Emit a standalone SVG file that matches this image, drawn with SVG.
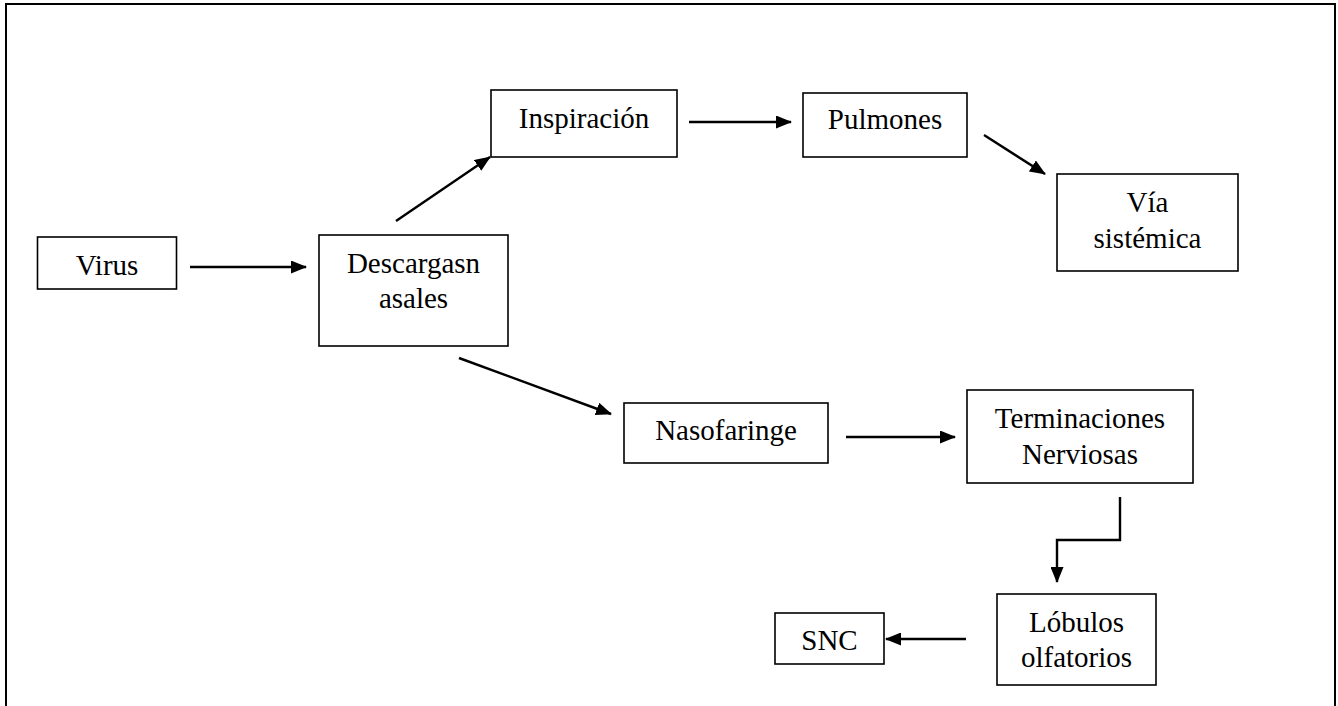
<svg xmlns="http://www.w3.org/2000/svg" width="1338" height="706" viewBox="0 0 1338 706">
<defs>
<style>
.box{fill:#fff;stroke:#000;stroke-width:1.6}
.c{fill:none;stroke:#000;stroke-width:2.4}
</style>
<marker id="ah" viewBox="0 0 16 13" refX="15" refY="6.5" markerWidth="16" markerHeight="13" markerUnits="userSpaceOnUse" orient="auto">
<path d="M0,0 L16,6.5 L0,13 Z" fill="#000"/>
</marker>
</defs>
<rect x="0" y="0" width="1338" height="706" fill="#fff"/>
<rect x="6" y="4" width="1329" height="720" fill="none" stroke="#000" stroke-width="2"/>
<g id="connectors">
<line class="c" x1="190" y1="267" x2="306" y2="267" marker-end="url(#ah)"/>
<line class="c" x1="396" y1="221" x2="490" y2="157" marker-end="url(#ah)"/>
<line class="c" x1="689" y1="122" x2="791" y2="122" marker-end="url(#ah)"/>
<line class="c" x1="984" y1="135" x2="1045" y2="174" marker-end="url(#ah)"/>
<line class="c" x1="459" y1="358" x2="611" y2="414" marker-end="url(#ah)"/>
<line class="c" x1="846" y1="437" x2="955" y2="437" marker-end="url(#ah)"/>
<polyline class="c" points="1120,497 1120,540 1057,540 1057,582" marker-end="url(#ah)"/>
<line class="c" x1="966" y1="639" x2="886" y2="639" marker-end="url(#ah)"/>
</g>
<g font-family="Liberation Serif" font-size="29" text-anchor="middle" fill="#000">
<g id="virus"><rect class="box" x="37.5" y="237" width="139" height="52"/><text x="107" y="275">Virus</text></g>
<g id="descargas"><rect class="box" x="319" y="235" width="189" height="111"/><text x="413.5" y="273">Descargasn</text><text x="413.5" y="308">asales</text></g>
<g id="inspiracion"><rect class="box" x="491" y="90" width="186" height="67"/><text x="584" y="128">Inspiración</text></g>
<g id="pulmones"><rect class="box" x="803" y="93" width="164" height="64"/><text x="885" y="129">Pulmones</text></g>
<g id="via"><rect class="box" x="1057" y="174" width="181" height="97"/><text x="1147.5" y="212">Vía</text><text x="1147.5" y="248">sistémica</text></g>
<g id="nasofaringe"><rect class="box" x="624" y="403" width="204" height="60"/><text x="726" y="440">Nasofaringe</text></g>
<g id="terminaciones"><rect class="box" x="967" y="390" width="226" height="93"/><text x="1080" y="428">Terminaciones</text><text x="1080" y="464">Nerviosas</text></g>
<g id="lobulos"><rect class="box" x="997" y="594" width="159" height="91"/><text x="1076.5" y="632">Lóbulos</text><text x="1076.5" y="667">olfatorios</text></g>
<g id="snc"><rect class="box" x="775" y="613" width="109" height="51"/><text x="829.5" y="650">SNC</text></g>
</g>
</svg>
